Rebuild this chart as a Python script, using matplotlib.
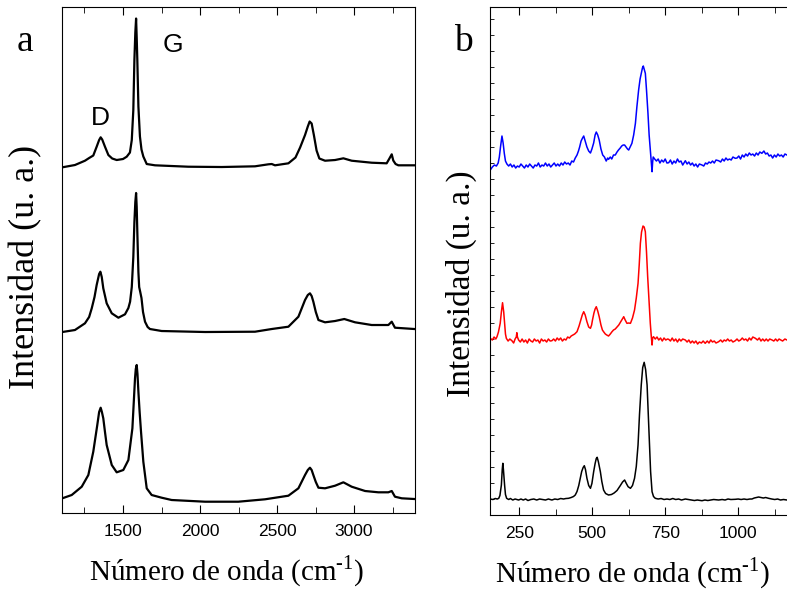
import matplotlib.pyplot as plt
import numpy as np

plt.rcParams["mathtext.fontset"] = "custom"
plt.rcParams["mathtext.rm"] = "Liberation Serif"

# Panel a: Raman spectra (wavenumber, intensity above own baseline, arbitrary units)
wn_a_top = [1106, 1188, 1253, 1280, 1307, 1329, 1345, 1355, 1365, 1383, 1405, 1430, 1459,
            1500, 1524, 1545, 1557, 1567, 1574, 1580, 1585, 1589, 1593, 1600, 1610, 1620,
            1632, 1654, 1708, 1924, 2141, 2357, 2444, 2466, 2487, 2574, 2620, 2650, 2682,
            2700, 2712, 2725, 2740, 2757, 2775, 2812, 2877, 2931, 2985, 3115, 3212, 3230,
            3245, 3255, 3270, 3288, 3392]
int_a_top = [0.2, 2.5, 6.8, 9.5, 12, 20.8, 27.5, 30.2, 28, 20.8, 12.5, 9, 7.5,
             8.5, 10.8, 15, 27.5, 57.5, 107.5, 135, 149, 130, 107.5, 61, 31, 18,
             11, 3.5, 2.2, 0.8, 0.5, 1.2, 3.2, 3.5, 2.2, 4.2, 10, 20, 32.5,
             41, 46, 44, 32, 17, 9, 6.8, 7.5, 9.2, 6.8, 4.8, 4.2, 9,
             13.2, 7, 3.5, 2.2, 2.2]

wn_a_mid = [1106, 1188, 1253, 1280, 1297, 1315, 1329, 1345, 1353, 1362, 1372, 1394, 1427,
            1470, 1513, 1535, 1546, 1557, 1567, 1574, 1580, 1585, 1589, 1593, 1600, 1605,
            1612, 1620, 1630, 1643, 1660, 1675, 1751, 2033, 2357, 2466, 2574, 2639, 2682,
            2700, 2714, 2725, 2736, 2752, 2769, 2812, 2877, 2937, 3007, 3115, 3223, 3245,
            3266, 3392]
int_a_mid = [0, 2, 8.7, 15, 23.7, 35, 47, 58, 60.3, 55, 43.7, 28.7, 18.7,
             14.3, 17.7, 24, 30.3, 45, 75, 110, 130, 139, 125, 100, 60, 45,
             40, 34, 20, 10.3, 5, 3, 1, 0, 0.3, 3, 5.3, 15.3, 32,
             37, 38.7, 36, 30.3, 20, 12, 9.7, 11, 13, 9.7, 7, 7, 10.3,
             4.3, 3]

wn_a_bot = [1106, 1167, 1232, 1275, 1307, 1333, 1345, 1355, 1363, 1372, 1383, 1394, 1427,
            1459, 1502, 1535, 1561, 1570, 1578, 1583, 1589, 1594, 1600, 1608, 1617, 1632,
            1654, 1686, 1751, 1816, 2033, 2249, 2422, 2574, 2639, 2682, 2700, 2714, 2725,
            2736, 2752, 2769, 2812, 2877, 2931, 2985, 3072, 3158, 3223, 3245, 3266, 3310,
            3392]
int_a_bot = [3.7, 7, 15.3, 27, 50.3, 77, 90, 94.3, 90, 83.7, 70, 57, 37,
             29.7, 32, 42, 73.7, 100, 123.7, 133, 137, 128, 110.3, 90, 70.3, 40.3,
             13.7, 7, 4.3, 2, 0.3, 0.3, 2.7, 6.3, 13.7, 27, 32, 34.3, 32,
             27, 20, 14.3, 13.7, 16.3, 19.7, 15.3, 11, 9.7, 9.7, 11, 5.3, 3.7,
             3]

offsets_a = [345.5, 181, 11]

# Panel b
wn_b_blue = [151, 158, 165, 172, 178, 182, 186, 191, 195, 199, 203, 208, 214, 220, 226, 232,
             238, 244, 250, 256, 262, 268, 274, 280, 286, 292, 298, 304, 310, 316, 322, 328,
             334, 340, 346, 352, 358, 364, 370, 376, 382, 388, 394, 400, 406, 412, 418, 424,
             430, 436, 442, 448, 453, 457, 462, 467, 471, 476, 482, 488, 494, 499, 505, 510,
             514, 519, 524, 530, 536, 542, 548, 553, 556, 562, 567, 573, 579, 585, 590, 596,
             601, 606, 611, 616, 621, 625, 630, 636, 642, 648, 653, 659, 664, 668, 672, 675,
             678, 682, 686, 691, 695, 699, 702, 705, 707, 709, 714, 720, 726, 732, 738, 744,
             750, 756, 762, 768, 774, 780, 786, 792, 798, 804, 810, 819, 825, 831, 837, 843,
             849, 855, 861, 867, 876, 882, 888, 894, 900, 906, 912, 918, 924, 933, 940, 946,
             952, 958, 964, 970, 976, 982, 990, 996, 1002, 1008, 1014, 1020, 1026, 1032, 1038,
             1044, 1050, 1056, 1062, 1068, 1074, 1081, 1088, 1094, 1100, 1106, 1112, 1118,
             1124, 1130, 1136, 1142, 1148, 1154, 1160, 1167]
int_b_blue = [-5, -2, 0, -1, 2, 8, 18, 29, 22, 11.7, 4, 1, -1, 1, -2, 0,
              -3, -1, -2, 1, -1, -3, 0, -2, 1, -1, -3, 0, -1, 2, -2, 0,
              -1, 2, -1, 1, -2, 0, 2, -1, 1, -1, 2, 0, 3, 1, 2, 0,
              4, 3, 7, 10, 14, 18, 24, 27, 29, 24, 18, 14, 12, 16, 22, 30,
              33, 30, 25, 16, 10, 8, 4, 7, 5.7, 8, 6, 10, 10, 13, 15, 17,
              19, 20, 20, 18, 16, 15, 18, 21.7, 30, 41.7, 58, 75, 86, 91.7, 97, 99,
              96, 91.7, 75, 51.7, 30, 15, 5, -6.7, 3, 8, 6, 4, 6, 2, 5, 3,
              6, 2, 2.3, 5, 1, 4, 2, 6, 3, 4, 0, 4.3, 1, 3, 0, 2,
              -1, 1, -2, 1, 0, -1, 2, 1, 3, 2, 4, 2, 5, 4.3, 3, 6,
              4, 7, 5, 6, 5, 8, 6.7, 7, 9, 6, 10, 8, 11, 9, 12,
              10, 11, 9, 12, 10, 13, 11.7, 14, 11, 12, 9, 10, 7,
              10, 8, 11, 9, 10, 8, 11, 10]

wn_b_red = [151, 158, 164, 170, 174, 179, 185, 189, 193, 197, 200, 203, 206, 212, 218, 225,
            231, 236, 240, 242, 244, 248, 254, 260, 266, 272, 278, 284, 290, 296, 302, 308,
            314, 320, 326, 332, 338, 344, 350, 356, 362, 368, 374, 380, 386, 392, 398, 404,
            410, 416, 422, 428, 434, 440, 448, 455, 461, 466, 471, 476, 482, 488, 494, 498,
            501, 506, 510, 514, 519, 524, 530, 535, 539, 545, 550, 556, 562, 567, 573, 579,
            585, 591, 597, 603, 608, 613, 619, 625, 631, 638, 645, 651, 657, 661, 665, 669,
            674, 678, 682, 686, 690, 695, 699, 702, 705, 707, 710, 716, 722, 728, 734, 740,
            746, 752, 758, 762, 768, 774, 780, 786, 792, 798, 804, 810, 819, 825, 831, 837,
            843, 849, 855, 861, 867, 874, 880, 887, 894, 900, 906, 912, 918, 924, 933, 940,
            946, 952, 958, 964, 970, 976, 982, 990, 996, 1002, 1008, 1014, 1020, 1026, 1032,
            1038, 1044, 1050, 1059, 1066, 1072, 1078, 1084, 1090, 1096, 1102, 1108, 1116,
            1122, 1128, 1134, 1140, 1146, 1152, 1160, 1167]
int_b_red = [1.7, 0, 3, 1, 3.3, 8, 16.7, 28, 37.3, 28, 16.7, 6, 1.7, -1, 1, -0.7,
             -3, 1, 3, 7.3, 3, 0, -2, 1, -2, 0, -3, 1, -1, -2, 1, -1,
             0, -3, 1, -1, 0, -2, 1, -1, -0.7, 1, -1, 2, 0, 2, -1, 1,
             0, 3, 2, 4, 5, 6, 8.3, 14, 20, 25, 28.3, 25, 18.3, 13, 11.7, 15,
             20, 27, 31, 33.3, 29, 23.3, 15, 10, 8.3, 6, 5, 4, 6, 8, 10, 11,
             13, 15, 18, 21, 23.3, 20, 16.7, 17, 16.7, 22, 30, 42, 56.7, 75, 96.7, 108,
             114, 113, 108.3, 88, 63.3, 38, 16.7, 5, -5, 2, 3.3, 1, 3, 0, 2, -1,
             2, 0, 1, 0.7, -1, 2, -1, 1, -2, 1, -1, 1, 0, -2, 0, -3,
             -1, -3, -1, -4, -2, -3, -1, -3.3, -1, -3, 0, -2, -1, -3, -1.7, 0,
             -2, 0, -1, 1, -1, 0, -2, -0.7, 1, -1, 0, 2, 0, 1, -1,
             2, 0, 3, 1.7, 0, 2, -1, 1, -1, 1, -1, 1, 0,
             -1, 1, -1, 1, 0, -1, 1, 0]

wn_b_black = [151, 160, 168, 175, 180, 184, 189, 192, 194, 196, 200, 203, 207, 214, 220, 228,
              236, 248, 256, 264, 272, 280, 290, 300, 310, 320, 330, 340, 350, 362, 372, 382,
              392, 402, 410, 419, 428, 436, 442, 448, 454, 459, 464, 469, 473, 477, 482, 488,
              494, 499, 505, 510, 514, 517, 521, 528, 533, 539, 546, 556, 566, 575, 585, 596,
              604, 611, 617, 623, 631, 638, 645, 651, 657, 662, 668, 673, 678, 683, 688, 692,
              696, 700, 705, 710, 716, 726, 736, 746, 756, 766, 776, 786, 796, 806, 819, 830,
              840, 850, 860, 876, 886, 896, 906, 916, 933, 945, 955, 965, 975, 990, 1000, 1010,
              1020, 1030, 1040, 1047, 1055, 1062, 1070, 1078, 1086, 1094, 1104, 1115, 1125,
              1135, 1145, 1155, 1167]
int_b_black = [0.5, 0, 1, 0.5, 1.2, 4, 14.5, 30, 36.2, 30, 14.5, 5, 1.2, 0, 1, -0.5,
               0.5, -0.5, 0.5, -0.5, 0.5, -1, 0, 0.5, -0.5, 0.5, 0, -0.5, 0.5, -0.5, 0.5, 0,
               1, 0.5, 1, 1.2, 2, 3, 4.5, 8, 14, 21.2, 28, 32, 33.8, 30, 21.2, 14,
               11.2, 16, 27.8, 36, 41, 42.2, 38, 27.8, 18, 9.5, 6, 4.5, 5, 6.5, 9, 13.8,
               17.5, 19.5, 16, 12.8, 11.2, 14, 21.2, 33, 54.5, 85, 114.5, 132, 137.2, 130, 114.5, 85,
               54.5, 28, 7.8, 3, 1.2, 0.5, 1, 0, 0.5, 0, 1, 0, 0.5, -0.5, 0.5, 0,
               -0.5, -1, -0.5, -1.2, -0.5, -1, -0.5, 0, -0.5, 0, -0.5, 0.5, 0, 0.2, 0.5, 0,
               0.5, 0, 0.5, 0.5, 1.5, 2, 2.5, 2, 1.5, 2, 1.2, 0.5, 0,
               0.5, -0.5, 0, -0.5]

offsets_b = [350, 175, 15.5]
colors_b = ["blue", "red", "black"]

serif = "Liberation Serif"
sans = "Liberation Sans"
xlabel = "Número de onda (cm$^{\\text{-1}}$)"

fig = plt.figure(figsize=(7.87, 5.90), dpi=100)
ax1 = fig.add_axes([0.0788, 0.1305, 0.4485, 0.8576])
ax2 = fig.add_axes([0.6226, 0.1271, 0.3896, 0.8610])

for wn, inten, off in zip([wn_a_top, wn_a_mid, wn_a_bot],
                          [int_a_top, int_a_mid, int_a_bot], offsets_a):
    ax1.plot(wn, np.array(inten) + off, color="black", lw=1.6)

ax1.set_xlim(1104, 3396)
ax1.set_ylim(0, 506)
ax1.set_xticks([1500, 2000, 2500, 3000])
ax1.set_xticks(np.arange(1250, 3400, 250), minor=True)
ax1.set_yticks([])
ax1.tick_params(axis="x", which="both", direction="in", top=True, labelsize=12.5, pad=8)
ax1.tick_params(axis="x", which="major", length=6)
ax1.tick_params(axis="x", which="minor", length=4)
for lab in ax1.get_xticklabels():
    lab.set_fontfamily(sans)
ax1.set_xlabel(xlabel, fontfamily=serif, fontsize=21)
ax1.set_ylabel("Intensidad (u. a.)", fontfamily=serif, fontsize=26)
# xlabel anchored at its top, ylabel at its right edge
ax1.xaxis.set_label_coords(0.467, -0.079)
ax1.yaxis.set_label_coords(-0.057, 0.486)
ax1.text(1355, 395, "D", fontfamily=sans, fontsize=19, ha="center", va="center")
ax1.text(1825, 468, "G", fontfamily=sans, fontsize=19, ha="center", va="center")

for wn, inten, off, c in zip([wn_b_blue, wn_b_red, wn_b_black],
                             [int_b_blue, int_b_red, int_b_black], offsets_b, colors_b):
    ax2.plot(wn, np.array(inten) + off, color=c, lw=1.1)

ax2.set_xlim(150, 1200)
ax2.set_ylim(0, 508)
ax2.set_xticks([250, 500, 750, 1000])
ax2.set_xticks(np.arange(375, 1200, 250), minor=True)
ax2.set_yticks(np.arange(16, 508, 16), minor=True)
ax2.set_yticks([])
ax2.tick_params(axis="x", which="both", direction="in", top=True, labelsize=12.5, pad=8)
ax2.tick_params(axis="x", which="major", length=6)
ax2.tick_params(axis="x", which="minor", length=4)
ax2.tick_params(axis="y", which="minor", direction="in", length=3, width=0.6)
for lab in ax2.get_xticklabels():
    lab.set_fontfamily(sans)
ax2.set_xlabel(xlabel, fontfamily=serif, fontsize=21)
ax2.set_ylabel("Intensidad (u. a.)", fontfamily=serif, fontsize=24)
ax2.xaxis.set_label_coords(0.466, -0.079)
ax2.yaxis.set_label_coords(-0.042, 0.455)

fig.text(25 / 787, 1 - 42 / 590, "a", fontfamily=serif, fontsize=27, ha="center", va="center")
fig.text(463 / 787, 1 - 42 / 590, "b", fontfamily=serif, fontsize=27, ha="center", va="center")

fig.savefig("out.png", dpi=100)
